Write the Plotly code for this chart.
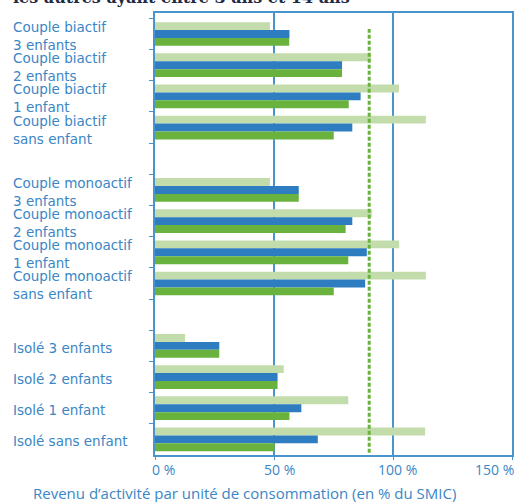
import plotly.graph_objects as go

# ---- data ----
cat_keys = ["cb3", "cb2", "cb1", "cb0", "gap1", "cm3", "cm2", "cm1", "cm0", "gap2", "is3", "is2", "is1", "is0"]
cat_labels = ["Couple biactif<br>3 enfants", "Couple biactif<br>2 enfants", "Couple biactif<br>1 enfant",
              "Couple biactif<br>sans enfant", "",
              "Couple monoactif<br>3 enfants", "Couple monoactif<br>2 enfants", "Couple monoactif<br>1 enfant",
              "Couple monoactif<br>sans enfant", "",
              "Isolé 3 enfants", "Isolé 2 enfants", "Isolé 1 enfant", "Isolé sans enfant"]
serie_a = [48.3, 90.8, 102.5, 113.8, None, 48.3, 91.1, 102.6, 113.8, None, 12.6, 54.1, 81.2, 113.5]
serie_b = [56.5, 78.6, 86.4, 82.9, None, 60.4, 82.9, 89.0, 88.3, None, 27.0, 51.5, 61.5, 68.4]
serie_c = [56.4, 78.6, 81.4, 75.1, None, 60.4, 80.1, 81.2, 75.1, None, 27.0, 51.5, 56.5, 50.3]
smic_line = 90
x_ticks = [0, 50, 100, 150]
x_ticklabels = ["0 %", "50 %", "100 %", "150 %"]
title_text = "les autres ayant entre 3 ans et 14 ans"
x_title = "Revenu d\u2019activité par unité de consommation (en % du SMIC)"

# ---- style ----
C_LIGHT = "#C3DCAB"
C_BLUE = "#2E7DC0"
C_GREEN = "#6AB23E"
C_AXIS = "#4A94CD"
C_TEXT = "#3A86C6"
FONT = "Open Sans"
LABEL_FONT = "DejaVu Sans"

fig = go.Figure()
for name, vals, col in [("Série 1", serie_a, C_LIGHT), ("Série 2", serie_b, C_BLUE), ("Série 3", serie_c, C_GREEN)]:
    fig.add_trace(go.Bar(y=cat_keys, x=vals, orientation="h", name=name,
                         marker=dict(color=col, line=dict(width=0)), showlegend=False))

fig.add_shape(type="line", xref="x", yref="paper", x0=smic_line, x1=smic_line, y0=0.005, y1=0.964,
              line=dict(color=C_GREEN, width=3, dash="4px,2px"), layer="above")

annotations = []
for key, lab in zip(cat_keys, cat_labels):
    if lab:
        annotations.append(dict(xref="paper", yref="y", x=-0.3955, y=key, text=lab, xanchor="left",
                                align="left", yanchor="middle", yshift=-2, xshift=-3, showarrow=False,
                                font=dict(family=LABEL_FONT, size=13.5, color=C_TEXT)))
shifts = [8, 5, 4, 4]
anchors = ["center", "center", "center", "right"]
for xv, lab, sh, an in zip(x_ticks, x_ticklabels, shifts, anchors):
    annotations.append(dict(xref="x", yref="paper", x=xv, y=-0.0317, text=lab, xanchor=an, yanchor="middle",
                            xshift=sh, showarrow=False, font=dict(family=FONT, size=14, color=C_TEXT)))
annotations.append(dict(xref="paper", yref="paper", x=0.251, y=-0.086, text=x_title, xanchor="center",
                        yanchor="middle", showarrow=False, font=dict(family=FONT, size=15, color=C_TEXT)))
annotations.append(dict(xref="paper", yref="paper", x=-0.3955, y=1.012, yshift=-1,
                        text="<b>" + title_text + "</b>", xshift=-3,
                        xanchor="left", yanchor="bottom", showarrow=False,
                        font=dict(family="DejaVu Serif", size=16, color="#1F2A44")))

fig.update_layout(
    width=517, height=502,
    margin=dict(l=155, r=3, t=13, b=47),
    paper_bgcolor="white", plot_bgcolor="white",
    barmode="group", bargap=0.24, bargroupgap=0,
    annotations=annotations,
    xaxis=dict(range=[0, 150], tickvals=x_ticks, showticklabels=False, showgrid=True,
               gridcolor=C_AXIS, gridwidth=1.5, showline=True, linecolor=C_AXIS, linewidth=1.5,
               mirror=True, ticks="outside", ticklen=3, tickcolor=C_AXIS, zeroline=False, fixedrange=True),
    yaxis=dict(type="category", categoryorder="array", categoryarray=cat_keys, autorange="reversed",
               showticklabels=False, showgrid=False, showline=True, linecolor=C_AXIS, linewidth=1.5,
               mirror=True, ticks="outside", tickson="boundaries", ticklen=4, tickcolor=C_AXIS,
               fixedrange=True),
)

fig.write_html("out.html", config={"displayModeBar": False},
               post_script="document.body.style.margin='0';")
